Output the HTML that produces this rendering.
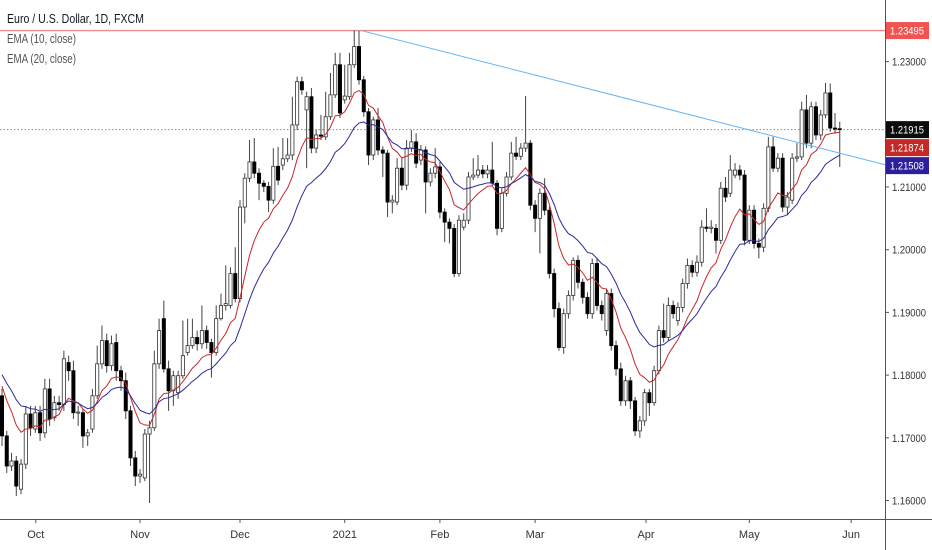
<!DOCTYPE html>
<html><head><meta charset="utf-8"><title>EURUSD 1D</title>
<style>
html,body{margin:0;padding:0;background:#fff;}
body{width:932px;height:550px;overflow:hidden;font-family:"Liberation Sans",sans-serif;}
svg{display:block}
</style></head>
<body>
<svg id="chart" width="932" height="550" viewBox="0 0 932 550" xmlns="http://www.w3.org/2000/svg">
  <rect x="0" y="0" width="932" height="550" fill="#ffffff"/>
  <g id="plot"></g>
  <g id="axes"></g>
  <g id="legend">
    <text x="7" y="23" font-size="12.5" fill="#131722" textLength="137" lengthAdjust="spacingAndGlyphs">Euro / U.S. Dollar, 1D, FXCM</text>
    <text x="7" y="43" font-size="12.5" fill="#555" textLength="69" lengthAdjust="spacingAndGlyphs">EMA (10, close)</text>
    <text x="7" y="63" font-size="12.5" fill="#555" textLength="69" lengthAdjust="spacingAndGlyphs">EMA (20, close)</text>
  </g>
</svg>
<script>
const opens=[1.1767,1.1703,1.1655,1.1663,1.1618,1.1658,1.1738,1.1714,1.1740,1.1708,
1.1778,1.1732,1.1756,1.1753,1.1820,1.1807,1.1740,1.1740,1.1703,1.1714,
1.1767,1.1818,1.1855,1.1815,1.1852,1.1807,1.1791,1.1743,1.1668,1.1639,
1.1636,1.1706,1.1716,1.1818,1.1890,1.1810,1.1775,1.1772,1.1799,1.1836,
1.1847,1.1860,1.1850,1.1871,1.1852,1.1836,1.1890,1.1911,1.1911,1.1962,
1.1922,1.2068,1.2114,1.2140,1.2122,1.2106,1.2101,1.2079,1.2133,1.2135,
1.2145,1.2151,1.2199,1.2268,1.2223,1.2244,1.2162,1.2183,1.2180,1.2212,
1.2247,1.2295,1.2239,1.2244,1.2295,1.2324,1.2271,1.2220,1.2151,1.2207,
1.2159,1.2154,1.2076,1.2076,1.2130,1.2103,1.2162,1.2172,1.2143,1.2159,
1.2108,1.2122,1.2132,1.2060,1.2044,1.2034,1.1962,1.2036,1.2047,1.2116,
1.2119,1.2127,1.2121,1.2127,1.2106,1.2034,1.2090,1.2116,1.2154,1.2149,
1.2162,1.2170,1.2071,1.2050,1.2090,1.2063,1.1962,1.1906,1.1844,1.1898,
1.1927,1.1983,1.1948,1.1924,1.1898,1.1978,1.1911,1.1871,1.1930,1.1847,
1.1810,1.1759,1.1791,1.1759,1.1711,1.1727,1.1772,1.1756,1.1807,1.1871,
1.1860,1.1911,1.1887,1.1908,1.1946,1.1975,1.1964,1.1980,1.2036,1.2034,
1.2034,1.2015,1.2098,1.2090,1.2119,1.2127,1.2119,1.2015,1.2063,1.2010,
1.2004,1.2066,1.2164,1.2130,1.2146,1.2068,1.2079,1.2146,1.2148,1.2223,
1.2170,1.2228,1.2183,1.2215,1.2250,1.2194,1.2193];
const highs=[1.1778,1.1711,1.1676,1.1671,1.1666,1.1751,1.1751,1.1751,1.1751,1.1794,
1.1794,1.1767,1.1767,1.1839,1.1831,1.1823,1.1751,1.1746,1.1714,1.1778,
1.1847,1.1879,1.1866,1.1863,1.1866,1.1815,1.1804,1.1751,1.1679,1.1650,
1.1714,1.1727,1.1839,1.1890,1.1919,1.1823,1.1807,1.1807,1.1887,1.1890,
1.1890,1.1871,1.1911,1.1879,1.1858,1.1911,1.1930,1.1975,1.1972,1.2004,
1.2079,1.2122,1.2175,1.2178,1.2130,1.2111,1.2108,1.2162,1.2164,1.2178,
1.2178,1.2244,1.2276,1.2276,1.2252,1.2258,1.2191,1.2215,1.2252,1.2282,
1.2314,1.2314,1.2295,1.2314,1.2350,1.2349,1.2277,1.2226,1.2212,1.2226,
1.2165,1.2159,1.2087,1.2146,1.2148,1.2175,1.2191,1.2186,1.2167,1.2165,
1.2130,1.2162,1.2140,1.2066,1.2050,1.2041,1.2055,1.2058,1.2124,1.2146,
1.2151,1.2135,1.2135,1.2172,1.2111,1.2098,1.2124,1.2172,1.2180,1.2170,
1.2245,1.2175,1.2079,1.2098,1.2114,1.2069,1.1970,1.1916,1.1906,1.1935,
1.1988,1.1991,1.1954,1.1932,1.1986,1.1986,1.1919,1.1938,1.1938,1.1855,
1.1820,1.1799,1.1797,1.1765,1.1735,1.1778,1.1778,1.1815,1.1879,1.1914,
1.1924,1.1919,1.1916,1.1954,1.1986,1.1983,1.1991,1.2047,1.2066,1.2047,
1.2041,1.2108,1.2116,1.2151,1.2138,1.2135,1.2127,1.2071,1.2071,1.2018,
1.2074,1.2180,1.2180,1.2154,1.2154,1.2092,1.2154,1.2170,1.2236,1.2247,
1.2236,1.2236,1.2223,1.2266,1.2265,1.2218,1.2204];
const lows=[1.1687,1.1644,1.1647,1.1607,1.1610,1.1650,1.1703,1.1708,1.1695,1.1700,
1.1719,1.1727,1.1743,1.1743,1.1791,1.1730,1.1719,1.1684,1.1687,1.1708,
1.1762,1.1810,1.1804,1.1807,1.1791,1.1775,1.1730,1.1655,1.1623,1.1628,
1.1631,1.1596,1.1711,1.1810,1.1804,1.1743,1.1751,1.1762,1.1794,1.1831,
1.1842,1.1839,1.1842,1.1842,1.1796,1.1831,1.1887,1.1903,1.1906,1.1916,
1.1916,1.2042,1.2108,1.2114,1.2079,1.2092,1.2060,1.2073,1.2103,1.2127,
1.2140,1.2143,1.2191,1.2247,1.2130,1.2154,1.2154,1.2175,1.2175,1.2207,
1.2242,1.2210,1.2233,1.2239,1.2290,1.2263,1.2212,1.2135,1.2143,1.2151,
1.2116,1.2052,1.2058,1.2071,1.2095,1.2095,1.2156,1.2130,1.2135,1.2058,
1.2101,1.2114,1.2050,1.2012,1.2010,1.1956,1.1957,1.2031,1.2041,1.2111,
1.2114,1.2114,1.2114,1.2101,1.2023,1.2028,1.2085,1.2111,1.2143,1.2143,
1.2156,1.2063,1.2028,1.1994,1.2055,1.1954,1.1892,1.1839,1.1834,1.1890,
1.1919,1.1938,1.1914,1.1890,1.1890,1.1903,1.1887,1.1863,1.1839,1.1799,
1.1751,1.1751,1.1746,1.1703,1.1700,1.1719,1.1735,1.1751,1.1801,1.1852,
1.1855,1.1890,1.1879,1.1900,1.1938,1.1956,1.1957,1.1973,1.2028,1.2026,
1.1994,1.2009,1.2076,1.2084,1.2114,1.2111,1.2007,1.2009,1.2002,1.1986,
1.1996,1.2060,1.2124,1.2124,1.2060,1.2055,1.2073,1.2140,1.2143,1.2162,
1.2162,1.2175,1.2175,1.2210,1.2188,1.2185,1.2132];
const closes=[1.1703,1.1655,1.1663,1.1623,1.1658,1.1738,1.1716,1.1740,1.1708,1.1778,
1.1730,1.1756,1.1753,1.1826,1.1807,1.1740,1.1741,1.1703,1.1708,1.1767,
1.1818,1.1855,1.1815,1.1850,1.1807,1.1791,1.1743,1.1668,1.1639,1.1642,
1.1706,1.1716,1.1818,1.1871,1.1810,1.1775,1.1799,1.1799,1.1831,1.1847,
1.1860,1.1850,1.1871,1.1852,1.1836,1.1890,1.1911,1.1914,1.1962,1.1922,
1.2068,1.2114,1.2140,1.2122,1.2106,1.2101,1.2079,1.2133,1.2111,1.2145,
1.2151,1.2199,1.2268,1.2255,1.2244,1.2162,1.2183,1.2181,1.2212,1.2247,
1.2295,1.2218,1.2245,1.2295,1.2324,1.2271,1.2220,1.2151,1.2207,1.2159,
1.2154,1.2076,1.2079,1.2130,1.2103,1.2162,1.2172,1.2138,1.2159,1.2108,
1.2122,1.2132,1.2060,1.2044,1.2034,1.1962,1.2047,1.2047,1.2116,1.2119,
1.2127,1.2121,1.2127,1.2106,1.2034,1.2090,1.2116,1.2154,1.2149,1.2162,
1.2170,1.2071,1.2050,1.2090,1.2063,1.1962,1.1906,1.1844,1.1898,1.1927,
1.1983,1.1948,1.1924,1.1898,1.1978,1.1911,1.1898,1.1930,1.1847,1.1810,
1.1759,1.1791,1.1759,1.1711,1.1727,1.1772,1.1756,1.1807,1.1871,1.1860,
1.1911,1.1898,1.1908,1.1946,1.1975,1.1964,1.1980,1.2036,1.2034,1.2036,
1.2015,1.2098,1.2084,1.2127,1.2127,1.2119,1.2015,1.2063,1.2010,1.2004,
1.2066,1.2164,1.2130,1.2146,1.2068,1.2084,1.2146,1.2148,1.2223,1.2170,
1.2228,1.2183,1.2215,1.2250,1.2194,1.2193,1.21915];
const emaSeeds=[1.1800,1.1811];
const priceTicks=[1.16,1.17,1.18,1.19,1.20,1.21,1.23];
const priceTickLabels=["1.16000","1.17000","1.18000","1.19000","1.20000","1.21000","1.23000"];
const timeTickIndex=[7.1,29,50,72,92,112,135.3,157,178.4];
const timeTickLabels=["Oct","Nov","Dec","2021","Feb","Mar","Apr","May","Jun"];
const highLevel=[1.23495];
const trendPoints=[[75.5,1.23495],[176,1.2154]];

const NS="http://www.w3.org/2000/svg";
const plot=document.getElementById('plot');
const axes=document.getElementById('axes');
const PLOT_R=885, AXIS_Y=519;
function yScale(p){return 187-(p-1.21)*6270;}
function xScale(i){return 2+i*4.76;}
function mk(tag,attrs,parent){const e=document.createElementNS(NS,tag);for(const k in attrs)e.setAttribute(k,attrs[k]);parent.appendChild(e);return e;}

const hl=mk('line',{x1:0,x2:PLOT_R,y1:yScale(highLevel[0]),y2:yScale(highLevel[0]),stroke:'#f28b8b','stroke-width':1.3},plot);


const lp=mk('line',{x1:0,x2:PLOT_R,y1:yScale(closes[closes.length-1]),y2:yScale(closes[closes.length-1]),stroke:'#888','stroke-width':1,'stroke-dasharray':'1.5,2'},plot);



for(let i=0;i<closes.length;i++){
  const x=xScale(i);const up=closes[i]>=opens[i];
  const g=mk('g',{},plot);
  
  
  mk('line',{x1:x,x2:x,y1:yScale(highs[i]),y2:yScale(lows[i]),stroke:'#444','stroke-width':1},g);
  const top=yScale(Math.max(opens[i],closes[i])),bot=yScale(Math.min(opens[i],closes[i]));
  mk('rect',{x:x-1.6,y:top,width:3.2,height:Math.max(1,bot-top),fill:up?'#fff':'#000',stroke:up?'#333':'#000','stroke-width':0.8},g);
}

function ema(n,seed){const k=2/(n+1);let e=seed;const out=[];for(const c of closes){e=c*k+e*(1-k);out.push(e);}return out;}
const ema10=ema(10,emaSeeds[0]),ema20=ema(20,emaSeeds[1]);
const p10=mk('polyline',{points:ema10.map((v,i)=>xScale(i)+','+yScale(v)).join(' '),fill:'none',stroke:'#c62828','stroke-width':1},plot);


const p20=mk('polyline',{points:ema20.map((v,i)=>xScale(i)+','+yScale(v)).join(' '),fill:'none',stroke:'#2b2b9b','stroke-width':1},plot);



const tx1=xScale(trendPoints[0][0]),ty1=yScale(trendPoints[0][1]),tx2=xScale(trendPoints[1][0]),ty2=yScale(trendPoints[1][1]);
const slope=(ty2-ty1)/(tx2-tx1);
const tl=mk('line',{x1:tx1,y1:ty1,x2:PLOT_R,y2:ty1+slope*(PLOT_R-tx1),stroke:'#64b5f6','stroke-width':1},plot);



const va=mk('line',{x1:PLOT_R+0.5,x2:PLOT_R+0.5,y1:0,y2:550,stroke:'#555','stroke-width':1},axes);


const ha=mk('line',{x1:0,x2:932,y1:AXIS_Y+0.5,y2:AXIS_Y+0.5,stroke:'#555','stroke-width':1},axes);



priceTicks.forEach((p,i)=>{
  const y=yScale(p);
  mk('line',{x1:PLOT_R,x2:PLOT_R+4,y1:y,y2:y,stroke:'#555'},axes);
  const t=mk('text',{x:892,y:y+4,'font-size':11,fill:'#333',textLength:34,lengthAdjust:'spacingAndGlyphs'},axes);
  t.textContent=priceTickLabels[i];
  
  
});
timeTickIndex.forEach((ti,i)=>{
  const x=xScale(ti);
  mk('line',{x1:x,x2:x,y1:AXIS_Y,y2:AXIS_Y+4,stroke:'#555'},axes);
  const t=mk('text',{x:x,y:538,'font-size':11,fill:'#333','text-anchor':'middle'},axes);
  t.textContent=timeTickLabels[i];
  
  
});

const badges=[[highLevel[0],'#f05350'],[closes[closes.length-1],'#0b0b0b'],[ema10[ema10.length-1],'#c62828'],[ema20[ema20.length-1],'#2b1f9e']];
let lastY=-100;
badges.forEach(b=>{
  let y=yScale(b[0]);
  if(y-lastY<18)y=lastY+18;
  lastY=y;
  const g=mk('g',{},axes);
  
  
  mk('rect',{x:PLOT_R+1,y:y-8.5,width:43,height:17,fill:b[1]},g);
  const t=mk('text',{x:PLOT_R+5,y:y+4,'font-size':11,fill:'#fff',textLength:34,lengthAdjust:'spacingAndGlyphs'},g);
  t.textContent=b[0].toFixed(5);
});
</script>
</body></html>
